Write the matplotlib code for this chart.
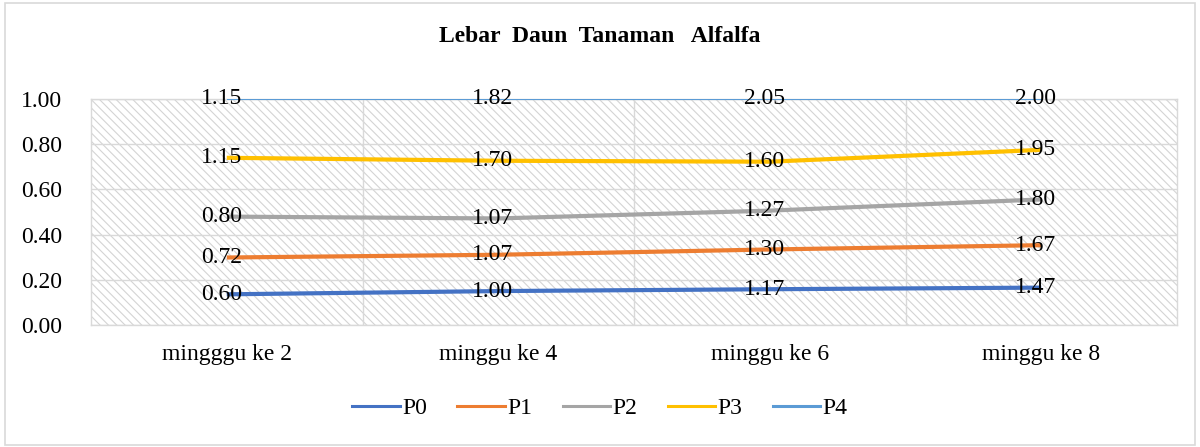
import matplotlib
matplotlib.use("Agg")
import matplotlib.pyplot as plt
import numpy as np
from matplotlib.patches import Rectangle
from matplotlib.lines import Line2D

categories = ["mingggu ke 2", "minggu ke 4", "minggu ke 6", "minggu ke 8"]
series_names = ["P0", "P1", "P2", "P3", "P4"]
P0 = [0.60, 1.00, 1.17, 1.47]
P1 = [0.72, 1.07, 1.30, 1.67]
P2 = [0.80, 1.07, 1.27, 1.80]
P3 = [1.15, 1.70, 1.60, 1.95]
P4 = [1.15, 1.82, 2.05, 2.00]
y_ticks = [0.0, 0.2, 0.4, 0.6, 0.8, 1.0]

colors = ["#4472C4", "#ED7D31", "#A5A5A5", "#FFC000", "#5B9BD5"]
widths = [3.0, 3.0, 3.0, 3.0, 1.5]

plt.rcParams['font.family'] = ['Liberation Serif', 'DejaVu Serif']
plt.rcParams['hatch.linewidth'] = 0.8
plt.rcParams['hatch.color'] = "#d4d4d4"
FS = 17

fig = plt.figure(figsize=(12, 4.47), dpi=100)
fig.patches.append(Rectangle((0.004, 0.004), 0.992, 0.99, transform=fig.transFigure,
                             fill=False, edgecolor="#d9d9d9", linewidth=1.2))

ax = fig.add_axes([91/1200, (447-325)/447, 1086/1200, 226/447])
ax.set_xlim(-0.5, 3.5)
ax.set_ylim(0, 1)

ax.add_patch(Rectangle((0, 0), 1, 1, transform=ax.transAxes, facecolor="white",
                       edgecolor="#d4d4d4", hatch="\\\\\\\\", linewidth=0, zorder=0))

data = np.array([P0, P1, P2, P3, P4])
totals = data.sum(axis=0)
cum = np.cumsum(data, axis=0) / totals
x = np.arange(len(categories))

for i, name in enumerate(series_names):
    ax.plot(x, cum[i], color=colors[i], linewidth=widths[i], label=name,
            solid_capstyle="butt", zorder=3)
    for xi, yi, v in zip(x, cum[i], data[i]):
        ax.text(xi - 0.02, yi, f"{v:.2f}", ha="center", va="center", fontsize=FS,
                color="#000000", zorder=4)

ax.set_yticks(y_ticks)
ax.set_yticklabels([f"{t:.2f}" for t in y_ticks], fontsize=FS)
ax.set_xticks(x)
ax.set_xticklabels(categories, fontsize=FS)
ax.set_xticks([0.5, 1.5, 2.5], minor=True)
ax.tick_params(axis="both", which="both", length=0)
ax.tick_params(axis="y", pad=21)
ax.tick_params(axis="x", pad=14)
ax.grid(True, axis="y", color="#d9d9d9", linewidth=1, zorder=1)
ax.grid(True, axis="x", which="minor", color="#d9d9d9", linewidth=1, zorder=1)
ax.set_axisbelow(True)
for s in ax.spines.values():
    s.set_color("#d9d9d9")
    s.set_linewidth(1)

fig.text(0.5, 1 - 37/447, "Lebar  Daun  Tanaman   Alfalfa", ha="center", va="center",
         fontsize=17, fontweight="bold")

handles = [Line2D([], [], color=c, linewidth=2.2) for c in colors]
fig.legend(handles, series_names, loc="center", bbox_to_anchor=(0.5, 1 - 408/447), ncol=5,
           frameon=False, fontsize=FS, handlelength=2.0, columnspacing=1.3,
           handletextpad=0.1)

fig.savefig("out.png", dpi=100)
